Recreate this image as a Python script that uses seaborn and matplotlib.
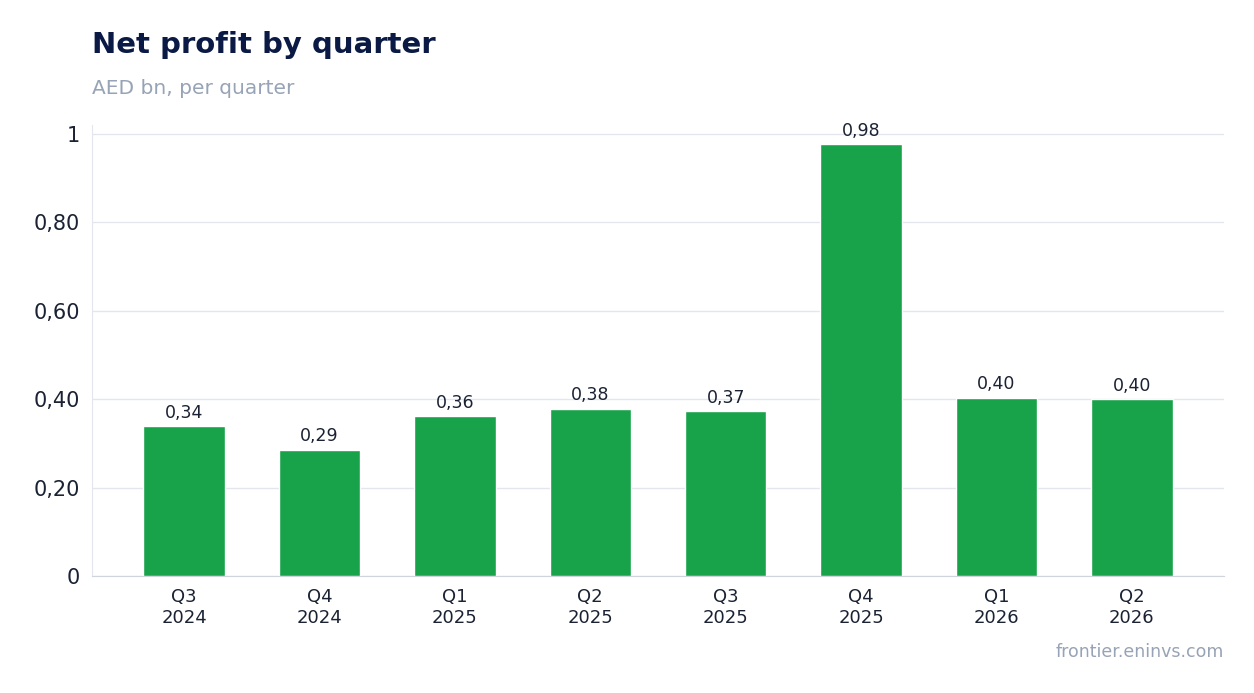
import matplotlib
matplotlib.use("Agg")
import matplotlib.pyplot as plt
import seaborn as sns
import pandas as pd

quarters = ["Q3\n2024", "Q4\n2024", "Q1\n2025", "Q2\n2025", "Q3\n2025", "Q4\n2025", "Q1\n2026", "Q2\n2026"]
profit = [0.339, 0.286, 0.362, 0.378, 0.373, 0.976, 0.403, 0.400]
ytick_vals = [0, 0.2, 0.4, 0.6, 0.8, 1.0]
ytick_labels = ["0", "0,20", "0,40", "0,60", "0,80", "1"]

df = pd.DataFrame({"quarter": quarters, "profit": profit})

sns.set_style("white")
plt.rcParams["font.family"] = ["DejaVu Sans"]

fig = plt.figure(figsize=(12.54, 6.93), dpi=100)
ax = fig.add_axes([92 / 1254, 1 - 576 / 693, (1224 - 92) / 1254, (576 - 125) / 693])

sns.barplot(data=df, x="quarter", y="profit", color="#18a34a", width=0.6, saturation=1, ax=ax, zorder=3)

for i, v in enumerate(profit):
    ax.text(i, v + 0.01, f"{v:.2f}".replace(".", ","), ha="center", va="bottom", fontsize=12.5, color="#1a2233")

ax.set_ylim(0, 1.02)
ax.set_xlim(-0.68, 7.68)
ax.set_yticks(ytick_vals)
ax.set_yticklabels(ytick_labels, fontsize=15, color="#1a2233")
ax.tick_params(axis="x", labelsize=13, colors="#1a2233", length=5, color="#333333")
ax.tick_params(axis="y", length=5, color="#333333")
for lab in ax.get_xticklabels():
    lab.set_color("#1a2233")
ax.grid(axis="y", color="#e3e6ec", linewidth=1, zorder=0)
ax.set_xlabel("")
ax.set_ylabel("")
for s in ["top", "right"]:
    ax.spines[s].set_visible(False)
ax.spines["left"].set_color("#e3e6ec")
ax.spines["bottom"].set_color("#d0d4dc")

fig.text(92 / 1254, 1 - 45 / 693, "Net profit by quarter", fontsize=21, fontweight="bold", color="#0b1a45", va="center")
fig.text(92 / 1254, 1 - 88 / 693, "AED bn, per quarter", fontsize=14.5, color="#97a3b6", va="center")
fig.text(1224 / 1254, 1 - 652 / 693, "frontier.eninvs.com", fontsize=12.5, color="#97a3b6", ha="right", va="center")

fig.savefig("out.png", dpi=100)
